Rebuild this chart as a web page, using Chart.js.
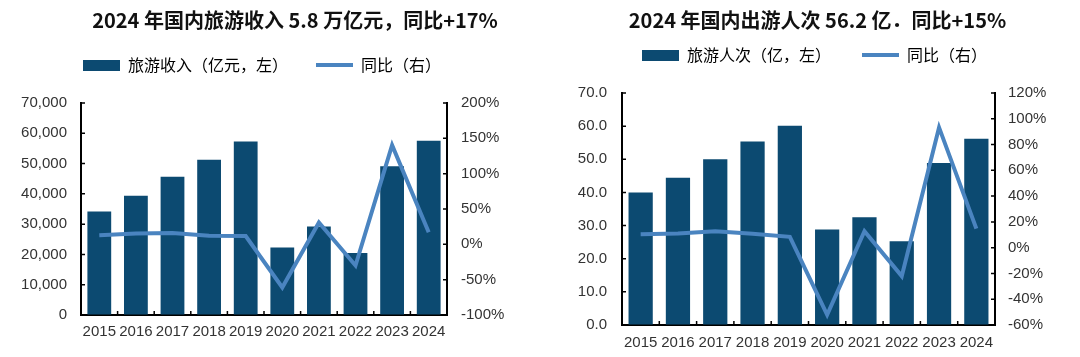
<!DOCTYPE html>
<html><head><meta charset="utf-8">
<script src="https://cdn.jsdelivr.net/npm/chart.js@4.4.1/dist/chart.umd.min.js"></script>
<style>
html,body{margin:0;padding:0;background:#fff;}
#wrap{position:relative;width:1080px;height:357px;overflow:hidden;}
.box{position:absolute;top:0;width:540px;height:357px;}
canvas{display:block;}
</style></head><body>
<div id="wrap">
<div class="box" style="left:0"><canvas id="c1" width="540" height="357"></canvas></div>
<div class="box" style="left:540px"><canvas id="c2" width="540" height="357"></canvas></div>
</div>
<script>
// ---- data ----
const years = ['2015','2016','2017','2018','2019','2020','2021','2022','2023','2024'];
const revenue = [34195, 39390, 45661, 51278, 57251, 22286, 29191, 20444, 49133, 57543];
const revenueYoY = [13.0, 15.2, 15.9, 12.3, 11.7, -61.1, 31.0, -30.0, 140.3, 17.1];
const trips = [40.0, 44.4, 50.0, 55.4, 60.1, 28.8, 32.5, 25.3, 48.9, 56.2];
const tripsYoY = [10.5, 11.0, 12.8, 10.8, 8.4, -52.1, 12.8, -22.1, 93.3, 14.8];
const title1 = '2024 年国内旅游收入 5.8 万亿元，同比+17%';
const title2 = '2024 年国内出游人次 56.2 亿．同比+15%';
const legend1 = ['旅游收入（亿元，左）', '同比（右）'];
const legend2 = ['旅游人次（亿，左）', '同比（右）'];

// ---- styles ----
const BAR = '#0C4A71';
const LINE = '#4A84C0';
const TICKFONT = {family: '"Liberation Sans", Arial, sans-serif', size: 15};
const CJK = '"Noto Sans CJK SC", sans-serif';

function swatch(w, h, color) {
  const c = document.createElement('canvas');
  c.width = w; c.height = h;
  const g = c.getContext('2d');
  g.fillStyle = color; g.fillRect(0, 0, w, h);
  return c;
}
const barSw = swatch(37, 11, BAR);
const lineSw = swatch(37, 4, LINE);

// widen the label clip areas of the y axes after layout (chart area unchanged)
const widenLabels = {
  id: 'widenLabels',
  afterLayout(chart) {
    chart.scales.y.left = 0;
    chart.scales.y1.right = chart.width;
  }
};

const inTicks = {
  id: 'inTicks',
  afterDraw(chart) {
    const ctx = chart.ctx;
    const {x, y, y1} = chart.scales;
    const a = chart.chartArea;
    const L = 4;
    ctx.save();
    ctx.strokeStyle = '#000';
    ctx.lineWidth = 1.5;
    ctx.beginPath();
    y.ticks.forEach(t => { const p = y.getPixelForValue(t.value); ctx.moveTo(a.left, p); ctx.lineTo(a.left + L, p); });
    y1.ticks.forEach(t => { const p = y1.getPixelForValue(t.value); ctx.moveTo(a.right - L, p); ctx.lineTo(a.right, p); });
    for (let i = 0; i < years.length - 1; i++) {
      const p = (x.getPixelForValue(i) + x.getPixelForValue(i + 1)) / 2;
      ctx.moveTo(p, a.bottom); ctx.lineTo(p, a.bottom - L);
    }
    ctx.stroke();
    ctx.restore();
  }
};

function makeChart(id, cfg) {
  const axisCommon = {
    grid: {display: true, drawOnChartArea: false, drawTicks: false},
    border: {display: true, color: '#000', width: 2},
  };
  return new Chart(document.getElementById(id), {
    data: {
      labels: years,
      datasets: [
        {type: 'line', data: cfg.yoy, borderColor: LINE, backgroundColor: LINE, borderWidth: 4,
         pointRadius: 0, tension: 0, fill: false, yAxisID: 'y1', order: 1},
        {type: 'bar', data: cfg.bars, backgroundColor: BAR, barPercentage: 0.65,
         categoryPercentage: 1, yAxisID: 'y', order: 2}
      ]
    },
    options: {
      responsive: false,
      animation: false,
      layout: {padding: cfg.pad},
      plugins: {
        tooltip: {enabled: false},
        title: {display: true, text: cfg.title, align: 'center', weight: 3000, color: '#111',
          font: {family: CJK, size: 20, weight: 'bold', lineHeight: 1},
          padding: cfg.titlePad},
        legend: {display: true, position: 'top', align: 'start', weight: 2000,
          labels: {usePointStyle: true, pointStyleWidth: 37, padding: cfg.legPad,
            color: '#666', font: {family: CJK, size: 16},
            generateLabels: () => [
              {text: cfg.legend[0], pointStyle: barSw, fillStyle: BAR, strokeStyle: BAR, lineWidth: 0, hidden: false, datasetIndex: 1},
              {text: cfg.legend[1], pointStyle: lineSw, fillStyle: LINE, strokeStyle: LINE, lineWidth: 0, hidden: false, datasetIndex: 0}
            ]}},
        subtitle: {display: true, text: ' ', weight: 100, position: 'top',
          font: {size: 1, lineHeight: 1}, padding: {top: cfg.gap - 1, bottom: 0}}
      },
      scales: {
        x: Object.assign({}, axisCommon, {offset: true,
          ticks: {padding: cfg.xPad, color: '#333', font: TICKFONT, maxRotation: 0, autoSkip: false},
          afterFit: s => { s.height = cfg.xH; }}),
        y: Object.assign({}, axisCommon, {position: 'left', min: cfg.yMin, max: cfg.yMax,
          ticks: {stepSize: cfg.yStep, padding: cfg.yPad, color: '#333', font: TICKFONT, callback: cfg.yFmt},
          afterFit: s => { s.width = cfg.wL; }}),
        y1: Object.assign({}, axisCommon, {position: 'right', min: cfg.rMin, max: cfg.rMax,
          ticks: {stepSize: cfg.rStep, padding: cfg.rPad, color: '#333', font: TICKFONT, callback: v => v + '%'},
          afterFit: s => { s.width = cfg.wR; }})
      }
    },
    plugins: [inTicks, widenLabels]
  });
}

makeChart('c1', {
  bars: revenue, yoy: revenueYoY, title: title1, legend: legend1,
  pad: {left: 55, right: 5, top: 0, bottom: 16},
  titlePad: {top: 10, bottom: -1}, legPad: 28, gap: 20, xPad: 8, xH: 26,
  yMin: 0, yMax: 70000, yStep: 10000, yPad: 14, yFmt: v => v.toLocaleString('en-US'),
  rMin: -100, rMax: 200, rStep: 50, rPad: 14, wL: 26, wR: 88
});
makeChart('c2', {
  bars: trips, yoy: tripsYoY, title: title2, legend: legend2,
  pad: {left: 71, right: 56, top: 0, bottom: 5},
  titlePad: {top: 10.5, bottom: -14.5}, legPad: 31, gap: 20, xPad: 9, xH: 27,
  yMin: 0, yMax: 70, yStep: 10, yPad: 15, yFmt: v => v.toFixed(1),
  rMin: -60, rMax: 120, rStep: 20, rPad: 13, wL: 11, wR: 29
});
</script>
</body></html>
